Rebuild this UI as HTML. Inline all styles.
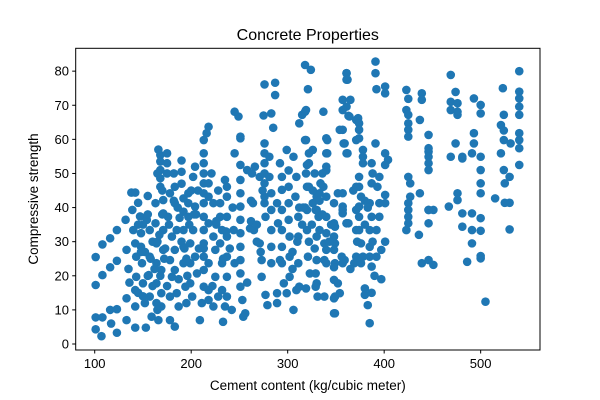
<!DOCTYPE html>
<html><head><meta charset="utf-8"><style>
body{margin:0;background:#fff}
svg{display:block;font-family:"Liberation Sans","DejaVu Sans",sans-serif}
</style></head><body>
<svg id="chart" width="600" height="400">
<rect x="0" y="0" width="600" height="400" fill="#fff"/>
<text x="307.8" y="40" font-size="16" text-anchor="middle" fill="#000">Concrete Properties</text>
<g id="marks"></g>
<g id="axes"></g>
<rect x="75.7" y="48.3" width="464.3" height="301.7" fill="none" stroke="#000" stroke-width="1"/>
<text x="307.8" y="390" font-size="13.5" text-anchor="middle">Cement content (kg/cubic meter)</text>
<text transform="translate(38,199) rotate(-90)" font-size="13.5" text-anchor="middle">Compressive strength</text>
</svg>
<script>
const xTicks=[100,200,300,400,500];
const yTicks=[0,10,20,30,40,50,60,70,80];
const cement=[101,101,101,101,107,108,108,108,116,116,117,116,123,123,123,123,
132,133,135,136,133,133,138,142,139,140,142,143,143,142,142,142,147,148,148,149,150,152,153,155,154,157,157,156,157,159,163,163,164,164,164,164,166,166,
168,168,168,168,168,171,171,171,171,169,169,169,175,175,175,178,176,180,178,180,178,178,183,182,183,183,185,183,183,185,187,
190,190,190,192,192,192,192,192,194,195,197,197,197,199,199,199,201,202,204,204,202,204,206,211,209,
213,213,213,213,213,213,213,213,213,213,213,213,213,213,218,218,216,218,218,218,218,218,223,223,223,225,225,228,230,230,232,230,232,232,235,233,235,237,237,237,237,237,237,237,242,244,
245,249,245,251,251,245,251,251,251,251,251,251,251,251,251,251,253,256,254,258,263,261,264,266,271,273,273,271,265,
276,275,276,276,276,276,276,276,276,277,277,279,285,287,287,283,281,281,283,283,283,283,283,289,289,289,290,292,292,294,294,294,294,294,294,296,
299,299,301,301,301,301,302,302,302,309,306,306,309,308,311,311,311,312,312,315,318,318,318,320,320,320,320,321,323,324,321,326,328,330,330,330,330,330,331,
337,337,340,340,340,340,340,340,340,340,349,349,349,349,349,352,352,357,359,357,357,359,361,361,362,365,363,362,363,369,371,371,371,371,371,371,
319,319,319,322,322,319,322,326,329,332,334,336,341,341,340,333,333,338,338,329,329,338,348,348,348,348,348,348,348,348,354,357,357,361,361,357,356,358,354,361,361,361,357,357,364,
373,374,374,374,378,378,378,374,374,376,374,374,374,376,378,376,380,380,383,385,387,387,385,385,385,387,385,387,388,387,391,391,391,392,393,395,395,395,392,397,392,397,401,404,401,401,401,401,401,401,
423,423,425,425,425,425,425,425,427,427,425,425,425,425,423,436,439,439,439,437,446,446,446,446,446,446,437,446,451,446,446,446,451,
469,467,469,469,476,474,476,476,474,469,481,481,476,476,481,481,486,493,493,493,491,491,491,491,500,500,500,500,500,500,500,500,500,500,505,
521,523,524,524,524,521,524,530,525,515,530,525,530,531,540,540,540,540,540,540,540,540,540,
145,150,155,160,145,152,158,162,148,155,160,145,150,165,167,170,165,172,168,175,177,173,170,165,
182,188,186,190,195,198,193,187,196,200,205,207,203,208,
222,226,228,233,236,240,243,226,221,
258,262,268,272,268,274,262,
305,310,315,318,322,325,328,333,336,343,345,312,305,316,326,
365,368,372,380,383,388,380,390];
const strength=[25.5,17.3,7.8,4.3,2.3,7.8,20.2,29.2,22.5,31,6,10,33.4,10.2,3.3,24.4,
36.4,27.6,22,18,13.4,7,44.4,44.4,39.3,33.4,29.5,25.6,19.7,15.8,11,4.8,37.4,32.5,28.5,23.7,17.8,12,4.8,43.4,36.4,33.4,25.6,20.2,13.9,8,41.3,35.4,29.5,23.7,17.8,12,7,57,
55.4,53.5,51,48.6,46.1,42.2,38.3,33.4,27.6,21.7,14.9,11,55.9,53,50,44.2,37.3,31.5,24.6,19.7,13.9,7,5.1,50,46.1,41.3,33.4,27.6,21.7,14.9,11,
53.8,47,50.5,42.7,38.8,33.4,28.5,23.7,16.8,12,44.2,41.3,37.3,29.5,23.7,17.8,13.9,49,40.3,52,33.4,25.6,20.7,12,7,28,
59.8,55.9,53,50,47.1,44.2,41.3,37.3,33.4,29.5,25.6,21.7,16.8,12.9,63.7,61.8,47.1,43.2,35.4,23.7,15.8,11,41.3,31.5,27.6,19.7,13.9,41.3,37.3,33.4,29.5,23.7,15.8,11,6.5,48.1,46.1,43.2,37.3,31.5,25.6,19.7,13.9,10,33.4,23.7,
66.7,68.1,60.3,60.8,55.9,52.5,48.1,44.2,40.3,36.4,32.5,28.5,24.6,20.7,16.8,12.9,9,8,51,50,33.9,41.3,52,49,19.7,24.6,29.5,33.4,41.3,
67,76.1,58.8,55.9,53,50,47.1,43.2,37.3,14.4,11.4,63.4,76.6,73,67.6,54.9,49,44.2,39.3,33.4,28.5,23.7,14.9,12,41.3,35.4,24.6,53,49,45.2,39.3,33.4,28.5,23.7,17.8,14.9,
56.9,50.9,46.1,41.3,36.4,31.5,25.6,19.7,15.8,10,54.9,49,43.2,37.3,31.5,23.7,16.8,64.7,67.2,81.8,68.1,59.8,52.5,46.1,39.3,33.4,25.6,20.7,80.4,74.7,56.9,50,43.2,39.3,31.5,24.6,17.8,13.9,46.1,
68.1,60.3,55.9,50.9,43.2,37.3,32.5,27.6,23.7,13.9,9,34.4,29.5,23.7,17.8,44.2,40.3,58.8,62.8,39.3,24.6,69.6,79.4,77.5,71.6,66.9,55.9,35.4,23.7,65.7,59.8,46.1,39.3,33.4,25.6,16.3,
68.6,59.8,55.9,53,50,46.1,41.3,39.3,37.3,47.1,50,59.8,55.9,52,44.2,33.4,29.5,24.6,20.7,16.8,13.9,13.4,9,41.3,35.4,31.5,27.6,22.5,18.8,14.9,44.2,38.3,35.4,35.4,23.7,25.6,58.8,62.8,55.9,79.4,77.5,71.6,68.6,66.7,66.2,
64.7,62.8,60.3,56.9,54.9,53,49,46.1,43.2,40.3,37.3,33.4,29.5,25.6,23.7,16.3,14.4,11.4,6.1,15,22.7,25.6,28.5,33.4,37.3,41.3,47.1,50,53,58.8,82.8,79.4,74.7,46.1,49,41.3,37.3,33.4,27.6,25.6,19,55.9,54,52.5,43.7,41.3,30,75.5,73.5,68.6,
74.5,71.9,67.2,64.7,62.8,60.8,49,47.1,43.2,41.3,39.3,37.3,35.4,33.4,32,23.7,73.5,71.6,65.7,56.4,61.3,57.4,54.9,53,51,44.2,39.3,39.3,39.3,35.4,24.6,23.2,78.9,
40.3,71,68.6,67.2,73.9,70.6,68.1,58.8,54.9,54.9,54.4,44.2,42.2,38.3,34.4,24.1,72,61.8,58.8,55.9,38.3,33.4,29.5,25.1,70.1,67.6,54.9,51,47.1,44.2,36.9,33.2,25.8,12.4,64.2,
75,59.8,67.2,62.6,55.9,51,49,47.1,42.7,41.4,41.4,33.6,58.8,57.4,80,74,72,69.6,67.2,61.8,59.8,52.5,41.4,
35,38,30,35,27,25,22,27,20,17,15,14,10,32,38,30,25,20,17,35,28,45,50,42,
37,40,30,25,35,28,19,20,45,38,45,38,28,17,
35,45,25,33,28,40,36,50,18,
36,30,27,35,45,42,22,
30,35,40,30,35,28,42,38,30,35,40,27,40,45,22,
45,30,42,40,30,35,20,45];
const X0=75.7,X1=540,XD0=80.3,XD1=561.5,Y0=350,Y1=48.3,YD0=-1.76,YD1=86.7;
function xs(v){return X0+(v-XD0)/(XD1-XD0)*(X1-X0);}
function ys(v){return Y0-(v-YD0)/(YD1-YD0)*(Y0-Y1);}
const NS="http://www.w3.org/2000/svg";
const marks=document.getElementById('marks');
for(let i=0;i<Math.min(cement.length,strength.length);i++){
  const c=document.createElementNS(NS,'circle');
  c.setAttribute('cx',xs(cement[i]));c.setAttribute('cy',ys(strength[i]));
  c.setAttribute('r',4.3);c.setAttribute('fill','#1f77b4');
  
  
  marks.appendChild(c);
}
const axes=document.getElementById('axes');
xTicks.forEach(t=>{
  const x=xs(t);
  const l=document.createElementNS(NS,'line');
  l.setAttribute('x1',x);l.setAttribute('x2',x);l.setAttribute('y1',350);l.setAttribute('y2',353.5);l.setAttribute('stroke','#000');
  
  
  axes.appendChild(l);
  const tx=document.createElementNS(NS,'text');
  tx.setAttribute('x',x);tx.setAttribute('y',368);tx.setAttribute('font-size','13');tx.setAttribute('text-anchor','middle');
  tx.textContent=t;
  
  
  axes.appendChild(tx);
});
yTicks.forEach(t=>{
  const y=ys(t);
  const l=document.createElementNS(NS,'line');
  l.setAttribute('x1',72.2);l.setAttribute('x2',75.7);l.setAttribute('y1',y);l.setAttribute('y2',y);l.setAttribute('stroke','#000');
  
  
  axes.appendChild(l);
  const tx=document.createElementNS(NS,'text');
  tx.setAttribute('x',69);tx.setAttribute('y',y+4.5);tx.setAttribute('font-size','13');tx.setAttribute('text-anchor','end');
  tx.textContent=t;
  
  
  axes.appendChild(tx);
});
</script>
</body></html>
